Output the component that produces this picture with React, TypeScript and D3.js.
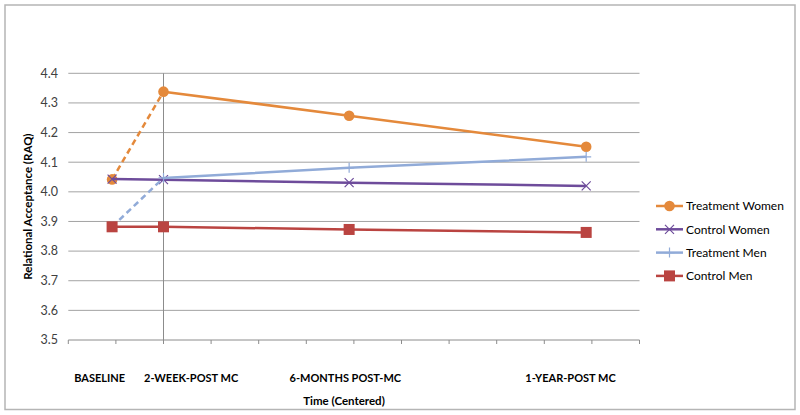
import React from "react";
import * as d3 from "d3";

// ---- data ----
const timePoints = ["BASELINE", "2-WEEK-POST MC", "6-MONTHS POST-MC", "1-YEAR-POST MC"];
const timeX = [-1.08, 0, 3.9, 8.88];
const timeLabelX = [-1.34, 0.58, 3.82, 8.55];

const seriesNames = ["Treatment Women", "Control Women", "Treatment Men", "Control Men"];
const treatmentWomen = [4.042, 4.338, 4.257, 4.152];
const controlWomen = [4.043, 4.041, 4.031, 4.020];
const treatmentMen = [3.882, 4.047, 4.081, 4.118];
const controlMen = [3.882, 3.882, 3.873, 3.863];

const yTicks = [3.5, 3.6, 3.7, 3.8, 3.9, 4.0, 4.1, 4.2, 4.3, 4.4];
const xTicks = d3.range(-2, 10.001, 1);

// ---- style ----
const colors = ["#E4893B", "#6E4C9B", "#91ABD8", "#BA4441"];
const markers = ["circle", "x", "plus", "square"];
const dashedFirst = [true, false, true, false];
const FONT = "Lato, 'Liberation Sans', Arial, sans-serif";

export default function App() {
  const W = 800, H = 415;
  const x = d3.scaleLinear().domain([-2, 10]).range([68.3, 639.5]);
  const y = d3.scaleLinear().domain([3.5, 4.4]).range([340, 73.3]);
  const allSeries = [treatmentWomen, controlWomen, treatmentMen, controlMen];
  const line = d3.line<[number, number]>().x((d) => x(d[0])).y((d) => y(d[1]));

  const marker = (kind: string, cx: number, cy: number, color: string, key: string) => {
    if (kind === "circle") return <circle key={key} cx={cx} cy={cy} r={5.3} fill={color} />;
    if (kind === "square") return <rect key={key} x={cx - 5.5} y={cy - 5.5} width={11} height={11} fill={color} />;
    if (kind === "x")
      return (
        <path key={key} d={`M${cx - 4.5},${cy - 4.5}L${cx + 4.5},${cy + 4.5}M${cx - 4.5},${cy + 4.5}L${cx + 4.5},${cy - 4.5}`} stroke={color} strokeWidth={1.2} fill="none" />
      );
    return (
      <path key={key} d={`M${cx - 5},${cy}L${cx + 5},${cy}M${cx},${cy - 5}L${cx},${cy + 5}`} stroke={color} strokeWidth={1.2} fill="none" />
    );
  };

  const legendY = [206, 229.3, 252.6, 275.9];

  return (
    <svg width={W} height={H} style={{ position: "absolute", left: 0, top: 0, fontFamily: FONT }}>
      <rect x={0} y={0} width={W} height={H} fill="#fff" />
      <rect x={5} y={5} width={790} height={404.5} fill="none" stroke="#b5b5b5" strokeWidth={1.5} />

      {/* gridlines */}
      {yTicks.slice(1).map((t) => (
        <line key={t} x1={x(-2)} x2={x(10)} y1={y(t)} y2={y(t)} stroke="#a3a3a3" strokeWidth={1} />
      ))}
      {/* x axis */}
      <line x1={x(-2)} x2={x(10)} y1={y(3.5)} y2={y(3.5)} stroke="#8c8c8c" strokeWidth={1} />
      {xTicks.map((t) => (
        <line key={t} x1={x(t)} x2={x(t)} y1={y(3.5)} y2={y(3.5) + 4} stroke="#8c8c8c" strokeWidth={1} />
      ))}
      {/* y axis at x=0 */}
      <line x1={x(0)} x2={x(0)} y1={y(4.4)} y2={y(3.5)} stroke="#8c8c8c" strokeWidth={1} />

      {/* y tick labels */}
      {yTicks.map((t) => (
        <text key={t} x={58} y={y(t)} dy="0.35em" textAnchor="end" fontSize={12.5} fill="#404040">
          {t.toFixed(1)}
        </text>
      ))}
      <text transform={`translate(32,${y(3.95)}) rotate(-90)`} textAnchor="middle" fontSize={11.5} fontWeight="bold" fill="#000">
        Relational Acceptance (RAQ)
      </text>

      {/* x labels */}
      {timePoints.map((lab, i) => (
        <text key={lab} x={x(timeLabelX[i])} y={382} textAnchor="middle" fontSize={11} fontWeight="bold" fill="#000">
          {lab}
        </text>
      ))}
      <text x={344} y={405} textAnchor="middle" fontSize={11.5} fontWeight="bold" fill="#000">
        Time (Centered)
      </text>

      {/* series */}
      {allSeries.map((vals, si) => {
        const pts: [number, number][] = vals.map((v, i) => [timeX[i], v]);
        return (
          <g key={si}>
            <path d={line(pts.slice(0, 2)) || ""} fill="none" stroke={colors[si]} strokeWidth={2.5} strokeDasharray={dashedFirst[si] ? "6,4" : undefined} />
            <path d={line(pts.slice(1)) || ""} fill="none" stroke={colors[si]} strokeWidth={2.5} />
            {pts.map((p, i) => marker(markers[si], x(p[0]), y(p[1]), colors[si], `${si}-${i}`))}
          </g>
        );
      })}

      {/* legend */}
      {seriesNames.map((n, i) => (
        <g key={n}>
          <line x1={656} x2={683} y1={legendY[i]} y2={legendY[i]} stroke={colors[i]} strokeWidth={2.5} />
          {marker(markers[i], 669.5, legendY[i], colors[i], `lg${i}`)}
          <text x={686} y={legendY[i]} dy="0.35em" fontSize={12} fill="#000">
            {n}
          </text>
        </g>
      ))}
    </svg>
  );
}
